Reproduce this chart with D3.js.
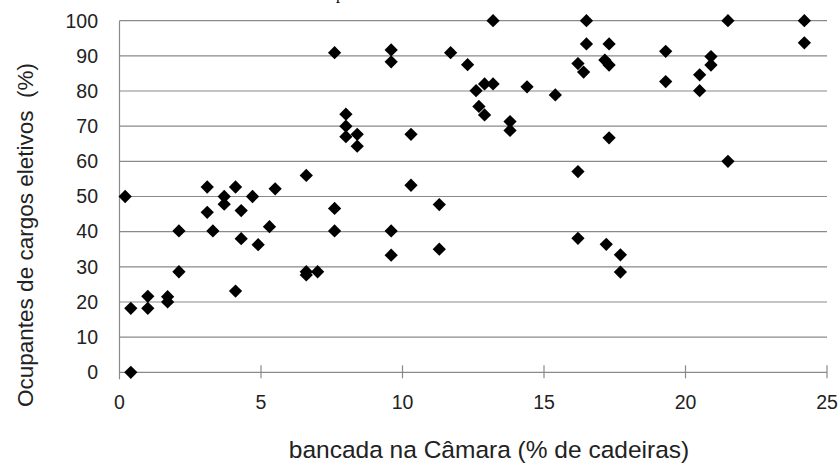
<!DOCTYPE html>
<meta charset="utf-8">
<script src="https://d3js.org/d3.v7.min.js"></script>
<style>
  body { margin: 0; background: #fff; }
  text { font-family: "Liberation Sans", Arial, sans-serif; fill: #222; }
</style>
<div id="my_dataviz"></div>

<script>

// values: share of seats (x) vs elected office holders (y)
var bancada = [0.2, 0.4, 0.4, 1.0, 1.0, 1.7, 1.7, 2.1, 2.1, 3.1, 3.1, 3.3, 3.7, 3.7, 4.1, 4.1,
  4.3, 4.3, 4.7, 4.9, 5.3, 5.5, 6.6, 6.6, 6.6, 7.0, 7.6, 7.6, 7.6, 8.0, 8.0, 8.0, 8.4, 8.4,
  9.6, 9.6, 9.6, 9.6, 10.3, 10.3, 11.3, 11.3, 11.7, 12.3, 12.6, 12.7, 12.9, 12.9, 13.2, 13.2,
  13.8, 13.8, 14.4, 15.4, 16.2, 16.4, 16.2, 16.2, 16.5, 16.5, 17.15, 17.3, 17.3, 17.3, 17.2,
  17.7, 17.7, 19.3, 19.3, 20.5, 20.5, 20.9, 20.9, 21.5, 21.5, 24.2, 24.2];
var ocupantes = [50, 18.2, 0, 21.6, 18.2, 21.5, 20, 40.2, 28.6, 52.7, 45.5, 40.2, 50, 47.8, 52.7, 23.1,
  46, 38, 50, 36.3, 41.4, 52.2, 56, 28.6, 27.7, 28.6, 90.9, 46.6, 40.2, 73.4, 70, 67, 67.7, 64.3,
  91.7, 88.3, 40.2, 33.3, 67.7, 53.2, 47.7, 35, 90.9, 87.5, 80.1, 75.6, 73.2, 82, 82, 100,
  71.3, 68.8, 81.2, 78.9, 87.8, 85.4, 57.1, 38.1, 100, 93.4, 88.8, 87.4, 93.4, 66.7, 36.4,
  33.4, 28.5, 91.3, 82.7, 84.6, 80.1, 89.8, 87.4, 100, 60, 100, 93.7];

var xTicks = [0, 5, 10, 15, 20, 25];
var yTicks = [0, 10, 20, 30, 40, 50, 60, 70, 80, 90, 100];

var width = 840, height = 465;

var svg = d3.select("#my_dataviz")
  .append("svg")
    .attr("width", width)
    .attr("height", height);

var x = d3.scaleLinear().domain([0, 25]).range([119.5, 827]);
var y = d3.scaleLinear().domain([0, 100]).range([372.3, 20.7]);

// the bit of the cut-off title at the top edge
svg.append("text")
  .attr("x", 336)
  .attr("y", -1)
  .style("font-family", "'Liberation Serif', serif")
  .style("font-size", "16px")
  .style("fill", "#000")
  .text("p");

// horizontal gridlines
svg.append("g")
  .selectAll("line")
  .data(yTicks)
  .enter()
  .append("line")
    .attr("x1", x(0))
    .attr("x2", x(25))
    .attr("y1", function(d) { return y(d); })
    .attr("y2", function(d) { return y(d); })
    .attr("stroke", "#8a8a8a")
    .attr("stroke-width", 1.2);

// y axis line
svg.append("line")
  .attr("x1", x(0)).attr("x2", x(0))
  .attr("y1", y(100)).attr("y2", y(0) + 7)
  .attr("stroke", "#8a8a8a")
  .attr("stroke-width", 1.2);

// x axis: ticks crossing the baseline
svg.append("g")
  .selectAll("line")
  .data(xTicks.slice(1))
  .enter()
  .append("line")
    .attr("x1", function(d) { return x(d); })
    .attr("x2", function(d) { return x(d); })
    .attr("y1", y(0) - 7)
    .attr("y2", y(0) + 6)
    .attr("stroke", "#8a8a8a")
    .attr("stroke-width", 1.2);

// tick labels
svg.append("g")
  .selectAll("text")
  .data(xTicks)
  .enter()
  .append("text")
    .attr("x", function(d) { return x(d); })
    .attr("y", 409)
    .attr("text-anchor", "middle")
    .style("font-size", "19.5px")
    .text(function(d) { return d; });

svg.append("g")
  .selectAll("text")
  .data(yTicks)
  .enter()
  .append("text")
    .attr("x", 98)
    .attr("y", function(d) { return y(d); })
    .attr("dy", "0.35em")
    .attr("text-anchor", "end")
    .style("font-size", "19.5px")
    .text(function(d) { return d; });

// axis titles
svg.append("text")
  .attr("x", 489)
  .attr("y", 458)
  .attr("text-anchor", "middle")
  .style("font-size", "24.5px")
  .text("bancada na Câmara (% de cadeiras)");

svg.append("text")
  .attr("transform", "translate(33,235) rotate(-90)")
  .attr("text-anchor", "middle")
  .style("font-size", "22.5px")
  .style("white-space", "pre")
  .text("Ocupantes de cargos eletivos  (%)");

// diamonds
var diamond = d3.symbol().type(d3.symbolSquare).size(88);

svg.append("g")
  .selectAll("path")
  .data(bancada.map(function(d, i) { return [d, ocupantes[i]]; }))
  .enter()
  .append("path")
    .attr("d", diamond)
    .attr("transform", function(d) {
      return "translate(" + x(d[0]) + "," + y(d[1]) + ") rotate(45)";
    })
    .style("fill", "#000");

</script>
